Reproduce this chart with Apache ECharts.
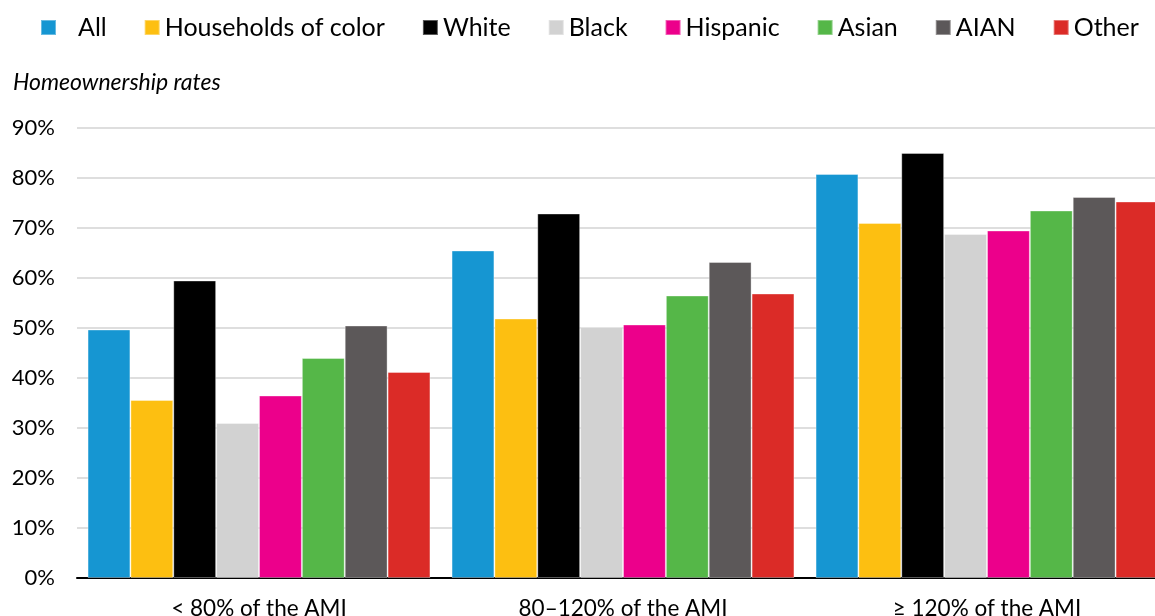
<!DOCTYPE html>
<html>
<head>
<meta charset="utf-8">
<script src="https://cdn.jsdelivr.net/npm/echarts@6/dist/echarts.min.js"></script>
<style>
  html, body { margin: 0; padding: 0; background: #fff; }
  #chart { width: 1155px; height: 616px; }
</style>
</head>
<body>
<div id="chart"></div>
<script>
// Homeownership rates by area median income band and race/ethnicity
const categories = ['< 80% of the AMI', '80–120% of the AMI', '≥ 120% of the AMI'];
const seriesNames = ['All', 'Households of color', 'White', 'Black', 'Hispanic', 'Asian', 'AIAN', 'Other'];
const allRates = [49.7, 65.5, 80.8];
const colorRates = [35.6, 51.9, 71.0];
const whiteRates = [59.5, 72.9, 85.0];
const blackRates = [31.0, 50.2, 68.8];
const hispanicRates = [36.5, 50.7, 69.5];
const asianRates = [44.0, 56.5, 73.5];
const aianRates = [50.5, 63.2, 76.2];
const otherRates = [41.2, 56.9, 75.3];
const yTicks = [0, 10, 20, 30, 40, 50, 60, 70, 80, 90];

const seriesValues = [allRates, colorRates, whiteRates, blackRates, hispanicRates, asianRates, aianRates, otherRates];
const palette = ['#1696d2', '#fdbf11', '#000000', '#d2d2d2', '#ec008b', '#55b748', '#5c5859', '#db2b27'];
const FONT = 'Lato';

const chart = echarts.init(document.getElementById('chart'));
chart.setOption({
  animation: false,
  color: palette,
  textStyle: { fontFamily: FONT, color: '#000' },
  legend: {
    left: 35,
    top: 10,
    width: 1200,
    itemWidth: 15,
    itemHeight: 15,
    itemGap: 37,
    icon: 'rect',
    data: seriesNames,
    textStyle: {
      fontFamily: FONT,
      fontSize: 25,
      color: '#000',
      rich: { pad: { fontFamily: FONT, fontSize: 25, color: '#000', padding: [0, 12, 0, 17] } }
    },
    formatter: name => name === 'All' ? '{pad|All}' : name
  },
  title: {
    text: 'Homeownership rates',
    left: 8,
    top: 66,
    textStyle: { fontFamily: FONT, fontSize: 23, fontStyle: 'italic', fontWeight: 'normal', color: '#000' }
  },
  // the plot runs past the right edge of the canvas, clipping the last bar
  grid: { left: 77, width: 1092, top: 128, height: 450, containLabel: false, outerBoundsMode: 'none' },
  xAxis: {
    type: 'category',
    data: categories,
    axisTick: { show: false },
    axisLine: { lineStyle: { color: '#000', width: 2 } },
    axisLabel: { fontFamily: FONT, fontSize: 22.5, color: '#000', margin: 19 }
  },
  yAxis: {
    type: 'value',
    min: yTicks[0],
    max: yTicks[yTicks.length - 1],
    interval: 10,
    axisLine: { show: false },
    axisTick: { show: false },
    splitLine: { lineStyle: { color: '#dedede', width: 2 } },
    axisLabel: { fontFamily: FONT, fontSize: 22, color: '#000', margin: 22, formatter: '{value}%' }
  },
  series: seriesNames.map((name, i) => ({
    name,
    type: 'bar',
    data: seriesValues[i],
    barGap: '0%',
    barCategoryGap: '5.8%',
    itemStyle: { borderColor: 'rgba(255,255,255,0.35)', borderWidth: 1 }
  }))
});
</script>
</body>
</html>
